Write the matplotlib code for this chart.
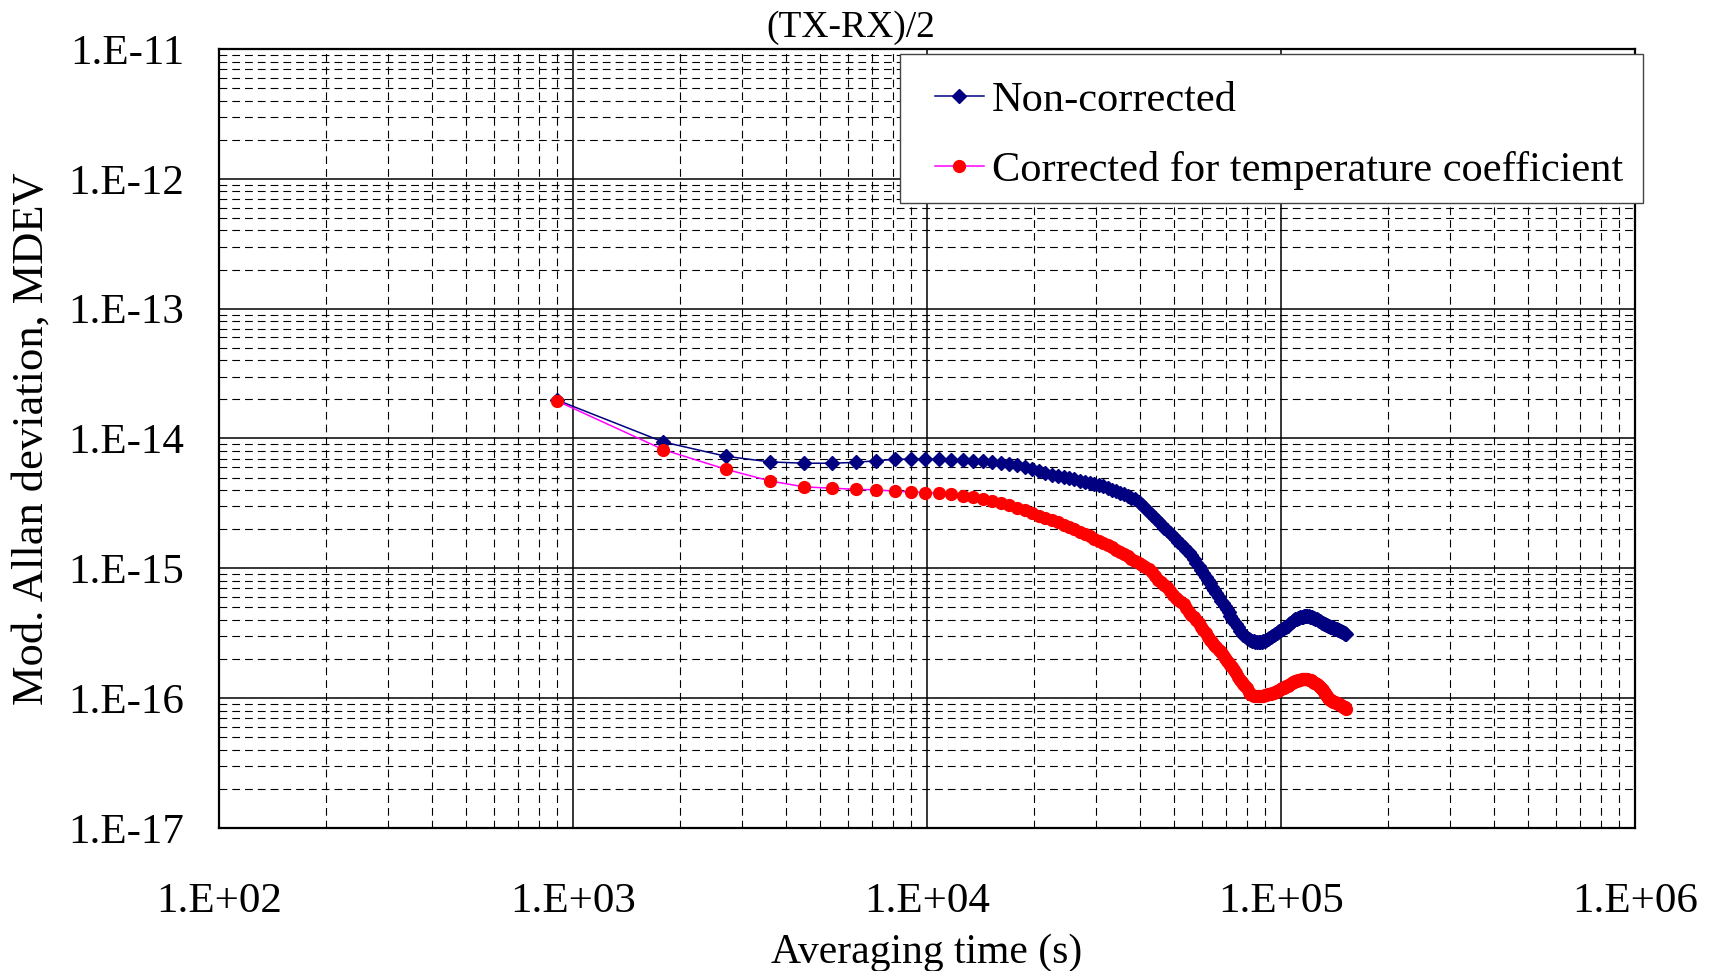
import numpy as np
import matplotlib
matplotlib.use("Agg")
import matplotlib.pyplot as plt
from matplotlib.lines import Line2D
from matplotlib.patches import Rectangle
from matplotlib.legend_handler import HandlerLine2D
from matplotlib.ticker import LogLocator, FuncFormatter, NullFormatter

# averaging factor n, tau = n * tau0
tau0 = 900.0
n_avg = np.arange(1, 171)

# MDEV in units of 1e-15
mdev_raw = [
    19.8, 9.4, 7.3, 6.6, 6.45, 6.45, 6.55, 6.75, 6.9, 6.95,
    6.95, 6.9, 6.88, 6.82, 6.75, 6.68, 6.58, 6.49, 6.35, 6.2,
    6.02, 5.8, 5.6, 5.4, 5.22, 5.12, 5.03, 4.94, 4.84, 4.72,
    4.62, 4.54, 4.46, 4.38, 4.27, 4.15, 4.03, 3.92, 3.82, 3.72,
    3.61, 3.50, 3.40, 3.25, 3.08, 2.89, 2.72, 2.57, 2.43, 2.30,
    2.18, 2.06, 1.96, 1.86, 1.77, 1.68, 1.60, 1.53, 1.46, 1.39,
    1.33, 1.26, 1.18, 1.10, 1.04, 0.975, 0.916, 0.861, 0.812, 0.766,
    0.722, 0.682, 0.644, 0.603, 0.562, 0.537, 0.513, 0.490, 0.457, 0.427,
    0.407, 0.389, 0.372, 0.355, 0.331, 0.316, 0.305, 0.299, 0.292, 0.285,
    0.281, 0.277, 0.274, 0.271, 0.270, 0.270, 0.270, 0.272, 0.274, 0.277,
    0.281, 0.285, 0.290, 0.295, 0.301, 0.305, 0.311, 0.316, 0.322, 0.327,
    0.333, 0.340, 0.345, 0.351, 0.356, 0.362, 0.370, 0.380, 0.388, 0.395,
    0.400, 0.405, 0.408, 0.412, 0.416, 0.419, 0.422, 0.424, 0.426, 0.427,
    0.427, 0.427, 0.426, 0.425, 0.423, 0.420, 0.417, 0.413, 0.409, 0.404,
    0.399, 0.394, 0.390, 0.385, 0.381, 0.378, 0.373, 0.370, 0.366, 0.363,
    0.361, 0.358, 0.356, 0.353, 0.351, 0.348, 0.346, 0.344, 0.341, 0.339,
    0.337, 0.334, 0.331, 0.329, 0.326, 0.323, 0.320, 0.317, 0.314, 0.310,
]

mdev_corr = [
    19.5, 8.2, 5.8, 4.71, 4.24, 4.14, 4.06, 4.02, 3.93, 3.88,
    3.83, 3.79, 3.72, 3.62, 3.52, 3.42, 3.29, 3.16, 3.05, 2.94,
    2.80, 2.66, 2.55, 2.45, 2.35, 2.26, 2.17, 2.08, 2.00, 1.92,
    1.84, 1.76, 1.68, 1.61, 1.56, 1.50, 1.45, 1.39, 1.34, 1.29,
    1.24, 1.19, 1.14, 1.10, 1.06, 1.02, 0.98, 0.94, 0.88, 0.82,
    0.78, 0.75, 0.72, 0.67, 0.625, 0.595, 0.57, 0.55, 0.53, 0.495,
    0.46, 0.44, 0.42, 0.40, 0.38, 0.355, 0.335, 0.315, 0.298, 0.283,
    0.270, 0.258, 0.248, 0.236, 0.225, 0.214, 0.203, 0.194, 0.186, 0.179,
    0.173, 0.165, 0.155, 0.146, 0.138, 0.133, 0.129, 0.125, 0.120, 0.112,
    0.107, 0.105, 0.104, 0.104, 0.104, 0.104, 0.103, 0.103, 0.104, 0.105,
    0.106, 0.107, 0.108, 0.108, 0.109, 0.110, 0.112, 0.113, 0.114, 0.116,
    0.118, 0.119, 0.120, 0.121, 0.123, 0.125, 0.127, 0.129, 0.131, 0.133,
    0.134, 0.135, 0.136, 0.137, 0.138, 0.139, 0.140, 0.141, 0.141, 0.141,
    0.141, 0.140, 0.139, 0.138, 0.137, 0.136, 0.134, 0.132, 0.131, 0.129,
    0.127, 0.125, 0.122, 0.120, 0.118, 0.115, 0.112, 0.109, 0.106, 0.104,
    0.101, 0.099, 0.097, 0.096, 0.095, 0.094, 0.093, 0.093, 0.092, 0.091,
    0.090, 0.090, 0.089, 0.088, 0.087, 0.086, 0.085, 0.085, 0.084, 0.083,
]

tau = tau0 * n_avg
raw = np.array(mdev_raw) * 1e-15
corr = np.array(mdev_corr) * 1e-15

plt.rcParams["font.family"] = ["Liberation Serif", "DejaVu Serif"]

W, H = 1709, 971
fig = plt.figure(figsize=(W / 100, H / 100), dpi=100)
ax = fig.add_axes([219 / W, 1 - 828 / H, 1416 / W, 779 / H])

ax.set_xscale("log")
ax.set_yscale("log")
ax.set_xlim(1e2, 1e6)
ax.set_ylim(1e-17, 1e-11)

ax.xaxis.set_major_locator(LogLocator(base=10, numticks=10))
ax.yaxis.set_major_locator(LogLocator(base=10, numticks=10))
ax.xaxis.set_minor_locator(LogLocator(base=10, subs=np.arange(2, 10), numticks=20))
ax.yaxis.set_minor_locator(LogLocator(base=10, subs=np.arange(2, 10), numticks=20))
ax.xaxis.set_minor_formatter(NullFormatter())
ax.yaxis.set_minor_formatter(NullFormatter())


def sci_label(v, pos):
    e = int(round(np.log10(v)))
    return "1.E%+03d" % e


ax.xaxis.set_major_formatter(FuncFormatter(sci_label))
ax.yaxis.set_major_formatter(FuncFormatter(sci_label))

ax.grid(which="major", color="black", linewidth=1.1, linestyle="-")
ax.grid(which="minor", color="black", linewidth=0.8, linestyle=(0, (7, 4.5)))
ax.set_axisbelow(True)

ax.tick_params(which="both", length=0)
ax.tick_params(axis="x", labelsize=31, pad=39)
ax.tick_params(axis="y", labelsize=31, pad=25)

for sp in ax.spines.values():
    sp.set_linewidth(1.6)
    sp.set_color("black")

ax.plot(tau, raw, color="#000080", linewidth=1.1, marker="D", markersize=7.5,
        markerfacecolor="#000080", markeredgecolor="#000080",
        label="Non-corrected")
ax.plot(tau, corr, color="#FF00FF", linewidth=1.1, marker="o", markersize=8.5,
        markerfacecolor="#FF0000", markeredgecolor="#FF0000",
        label="Corrected for temperature coefficient")

ax.set_xlabel("Averaging time (s)", fontsize=30, labelpad=9)
ax.set_ylabel("Mod. Allan deviation, MDEV", fontsize=32)
ax.yaxis.set_label_coords(-0.118, 0.5)

ax.set_title("(TX-RX)/2", fontsize=27, x=0.446, pad=9)

# legend box drawn on its own so the padding can be uneven
box = Rectangle((900 / W, 1 - 203 / H), 743 / W, 148.5 / H,
                transform=fig.transFigure, facecolor="white",
                edgecolor="#444444", linewidth=1.0, zorder=4, clip_on=False)
fig.patches.append(box)

leg = ax.legend(loc="upper left", bbox_to_anchor=(918 / W, 1 - 81 / H),
                bbox_transform=fig.transFigure, fontsize=30.5, frameon=False,
                borderaxespad=0, borderpad=0,
                handlelength=1.55, handletextpad=0.2, labelspacing=0.745,
                handler_map={Line2D: HandlerLine2D(xpad=0.4)})
leg.set_zorder(6)
leg.remove()
fig.add_artist(leg)

fig.savefig("out.png", dpi=100)
